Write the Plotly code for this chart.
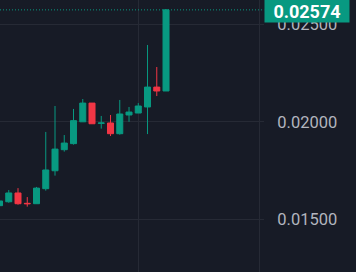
import plotly.graph_objects as go

# ---- data ----
idx = list(range(19))
opens = [0.01570, 0.01590, 0.01635, 0.01582, 0.01580, 0.01657, 0.01749, 0.01857, 0.01888,
         0.02000, 0.02096, 0.01992, 0.01994, 0.01939, 0.02035, 0.02045, 0.02076, 0.02178, 0.02158]
highs = [0.01594, 0.01650, 0.01660, 0.01614, 0.01666, 0.01948, 0.02081, 0.01932, 0.02066,
         0.02117, 0.02096, 0.02030, 0.02035, 0.02112, 0.02076, 0.02096, 0.02394, 0.02281, 0.02578]
lows = [0.01570, 0.01585, 0.01575, 0.01565, 0.01580, 0.01647, 0.01724, 0.01847, 0.01883,
        0.02000, 0.01990, 0.01965, 0.01927, 0.01934, 0.02000, 0.02045, 0.01937, 0.02132, 0.02158]
closes = [0.01594, 0.01635, 0.01580, 0.01580, 0.01660, 0.01753, 0.01860, 0.01891, 0.02006,
          0.02096, 0.01990, 0.01994, 0.01939, 0.02040, 0.02050, 0.02081, 0.02178, 0.02158, 0.02574]
last_price = 0.02574
price_ticks = [0.015, 0.020, 0.025]
tick_text = ["0.01500", "0.02000", "0.02500"]
time_grid = [15]

GREEN = "#089981"
RED = "#F23645"
BG = "#171b26"
GRID = "#262a35"
TXT = "#b2b5be"

fig = go.Figure(go.Candlestick(
    x=idx, open=opens, high=highs, low=lows, close=closes,
    increasing=dict(line=dict(color=GREEN, width=1), fillcolor=GREEN),
    decreasing=dict(line=dict(color=RED, width=1), fillcolor=RED),
    whiskerwidth=0, hoverinfo="skip", showlegend=False,
))

fig.add_shape(type="line", xref="paper", yref="y", x0=0, x1=1.02,
              y0=last_price, y1=last_price,
              line=dict(color=GREEN, width=1, dash="1px,2px"))

fig.add_annotation(xref="paper", yref="y", x=1, y=last_price,
                   xanchor="left", yanchor="middle", xshift=5, yshift=-1,
                   text="<b>0.02574</b>", showarrow=False,
                   font=dict(family="Roboto", size=18, color="#ffffff"),
                   bgcolor=GREEN, width=84, height=22, borderpad=0)

fig.update_layout(
    width=356, height=272,
    margin=dict(l=0, r=97, t=0, b=0),
    paper_bgcolor=BG, plot_bgcolor=BG,
    boxgap=0.35, boxgroupgap=0,
    xaxis=dict(range=[0.054, 28.05], rangeslider=dict(visible=False),
               tickvals=time_grid, showticklabels=False, showgrid=True,
               gridcolor=GRID, gridwidth=1, zeroline=False, showline=False, ticks=""),
    yaxis=dict(side="right", range=[0.012298, 0.026246],
               tickvals=price_ticks, ticktext=tick_text,
               showgrid=True, gridcolor=GRID, gridwidth=1, zeroline=False,
               showline=True, linecolor=GRID, linewidth=1,
               ticks="outside", ticklen=4, tickcolor=GRID, tickwidth=1,
               ticklabelstandoff=10,
               tickfont=dict(family="Roboto", size=16.5, color=TXT)),
    font=dict(family="Roboto"),
)

fig.write_html("out.html")
